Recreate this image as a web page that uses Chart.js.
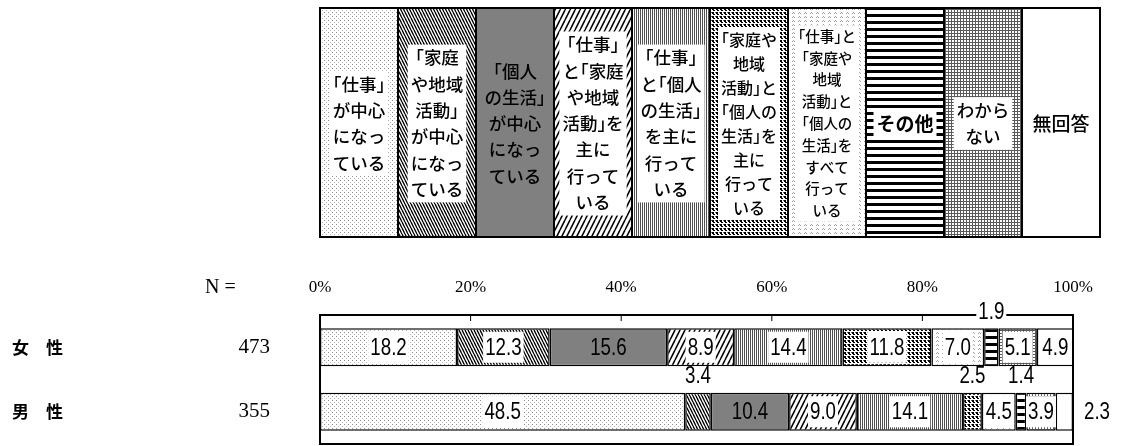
<!DOCTYPE html>
<html>
<head>
<meta charset="utf-8">
<script src="https://cdn.jsdelivr.net/npm/chart.js@4"></script>
<style>html,body{margin:0;padding:0;background:#fff;}</style>
</head>
<body>
<canvas id="chart" width="1139" height="446"></canvas>
<script>
// data
const groups = ['女　性', '男　性'];
const nCounts = [473, 355];
const categories = [
  ['「仕事」', 'が中心', 'になっ', 'ている'],
  ['「家庭', 'や地域', '活動」', 'が中心', 'になっ', 'ている'],
  ['「個人', 'の生活」', 'が中心', 'になっ', 'ている'],
  ['「仕事」', 'と「家庭', 'や地域', '活動」を', '主に', '行って', 'いる'],
  ['「仕事」', 'と「個人', 'の生活」', 'を主に', '行って', 'いる'],
  ['「家庭や', '地域', '活動」と', '「個人の', '生活」を', '主に', '行って', 'いる'],
  ['「仕事」と', '「家庭や', '地域', '活動」と', '「個人の', '生活」を', 'すべて', '行って', 'いる'],
  ['その他'],
  ['わから', 'ない'],
  ['無回答']
];
const female = [18.2, 12.3, 15.6, 8.9, 14.4, 11.8, 7.0, 1.9, 5.1, 4.9];
const male = [48.5, 3.4, 10.4, 9.0, 14.1, 2.5, 4.5, 1.4, 3.9, 2.3];
const tickValues = [0, 20, 40, 60, 80, 100];

const ctx = document.getElementById('chart').getContext('2d');
const JP = '"Noto Sans CJK JP", "Noto Sans", sans-serif';
const SERIF = '"Liberation Serif", "DejaVu Serif", serif';

function makePattern(w, h, draw) {
  const c = document.createElement('canvas');
  c.width = w; c.height = h;
  const g = c.getContext('2d');
  g.fillStyle = '#fff';
  g.fillRect(0, 0, w, h);
  draw(g);
  return ctx.createPattern(c, 'repeat');
}

function slashes(g, w, h, back, lw) {
  g.strokeStyle = '#000';
  g.lineWidth = lw;
  for (const dx of [-w, 0, w]) {
    g.beginPath();
    if (back) { g.moveTo(dx, 0); g.lineTo(dx + w, h); }
    else { g.moveTo(dx, h); g.lineTo(dx + w, 0); }
    g.stroke();
  }
}

const fills = [
  makePattern(4, 4, g => { g.fillStyle = '#8c8c8c'; g.fillRect(0, 0, 1, 1); g.fillStyle = '#b4b4b4'; g.fillRect(2, 2, 1, 1); }),
  makePattern(3, 6, g => slashes(g, 3, 6, true, 1.3)),
  '#808080',
  makePattern(5, 10, g => slashes(g, 5, 10, false, 1.5)),
  makePattern(2, 1, g => { g.fillStyle = '#505050'; g.fillRect(0, 0, 1, 1); }),
  makePattern(4, 4, g => { g.fillStyle = '#000'; g.fillRect(0, 0, 2, 2); g.fillRect(1, 2, 2, 1); g.fillStyle = '#666'; g.fillRect(3, 0, 1, 1); }),
  makePattern(6, 4, g => { g.fillStyle = '#a0a0a0'; g.fillRect(0, 1, 1, 1); g.fillRect(1, 0, 1, 1); g.fillRect(2, 1, 1, 1); }),
  makePattern(1, 7, g => { g.fillStyle = '#000'; g.fillRect(0, 0, 1, 3); }),
  makePattern(3, 3, g => { g.fillStyle = '#5a5a5a'; g.fillRect(0, 0, 3, 1); g.fillRect(0, 0, 1, 3); }),
  '#ffffff'
];

// proportional brackets, like the original office font
function jpWidth(c, text) {
  let w = 0;
  for (const ch of text) {
    const a = c.measureText(ch).width;
    w += (ch === '「' || ch === '」') ? a / 2 : a;
  }
  return w;
}
function jpText(c, text, cx, y) {
  let x = cx - jpWidth(c, text) / 2;
  c.textAlign = 'left';
  for (const ch of text) {
    const a = c.measureText(ch).width;
    if (ch === '「') { c.fillText(ch, x - a / 2, y); x += a / 2; }
    else if (ch === '」') { c.fillText(ch, x, y); x += a / 2; }
    else { c.fillText(ch, x, y); x += a; }
  }
}

function narrowText(c, text, x, y, sx) {
  c.save();
  c.translate(x, y);
  c.scale(sx, 1);
  c.fillText(text, 0, 0);
  c.restore();
}

const decor = {
  id: 'decor',
  afterDraw(chart) {
    const c = chart.ctx;
    const area = chart.chartArea;
    const xs = chart.scales.x;
    const ys = chart.scales.y;

    // legend cells on top
    const cellW = 78, cellTop = 8, cellH = 229;
    categories.forEach((lines, i) => {
      const x = area.left + i * cellW;
      c.fillStyle = fills[i];
      c.fillRect(x, cellTop, cellW, cellH);
      c.strokeStyle = '#000';
      c.lineWidth = 2;
      c.strokeRect(x, cellTop, cellW, cellH);
      let size = 17.5, lh = 26.3;
      if (lines.length >= 9) { size = 14.5; lh = 21.8; }
      else if (lines.length === 8) { size = 16; lh = 24; }
      else if (lines.length === 1) { size = 19; }
      c.font = (lines[0] === 'その他' ? 'bold ' : '500 ') + size + 'px ' + JP;
      let tw = 0;
      lines.forEach(t => { tw = Math.max(tw, jpWidth(c, t)); });
      const cy = cellTop + cellH / 2 + 1;
      const y0 = cy - (lines.length - 1) * lh / 2;
      if (fills[i] !== '#808080') {
        c.fillStyle = '#fff';
        c.fillRect(x + cellW / 2 - tw / 2 - 3, y0 - lh / 2, tw + 6, lines.length * lh);
      }
      c.fillStyle = '#000';
      c.textBaseline = 'middle';
      lines.forEach((t, k) => jpText(c, t, x + cellW / 2, y0 + k * lh));
    });

    // plot frame and ticks
    c.strokeStyle = '#000';
    c.lineWidth = 2;
    c.strokeRect(area.left, area.top, area.right - area.left, area.bottom - area.top);
    c.lineWidth = 1;
    c.font = '17px ' + SERIF;
    c.fillStyle = '#000';
    c.textAlign = 'center';
    c.textBaseline = 'middle';
    tickValues.forEach(v => {
      const px = xs.getPixelForValue(v);
      if (v > 0 && v < 100) {
        c.beginPath();
        c.moveTo(px, area.top);
        c.lineTo(px, area.top + 6);
        c.stroke();
      }
      c.fillText(v + '%', px, 288);
    });
    c.font = '20px ' + SERIF;
    c.textAlign = 'left';
    c.fillText('N =', 205, 288);

    // group labels and counts
    groups.forEach((g, i) => {
      const py = ys.getPixelForValue(i);
      c.font = 'bold 17px ' + JP;
      c.textAlign = 'left';
      c.fillText(g, 12, py);
      c.font = '21px ' + SERIF;
      c.textAlign = 'right';
      c.fillText(String(nCounts[i]), 270, py);
    });

    // value labels
    const sx = 0.78;
    c.font = '24px "Liberation Sans", Arial, sans-serif';
    c.textAlign = 'center';
    c.textBaseline = 'middle';
    const last = chart.data.datasets.length - 1;
    chart.data.datasets.forEach((ds, di) => {
      const meta = chart.getDatasetMeta(di);
      meta.data.forEach((el, gi) => {
        const v = ds.data[gi];
        const txt = v.toFixed(1);
        const w = c.measureText(txt).width * sx;
        let tx = (el.x + el.base) / 2;
        let ty = el.y;
        let bh = el.height - 7;
        if (v < 3.5) {
          if (di === last) {
            tx = area.right + 24;
            bh = 0;
          } else {
            ty = el.y - el.height / 2 - 17;
            bh = 18;
          }
        }
        if (bh > 0 && ds.backgroundColor !== '#808080') {
          c.fillStyle = '#fff';
          c.fillRect(tx - w / 2 - 2, ty - bh / 2, w + 4, bh);
        }
        c.fillStyle = '#000';
        narrowText(c, txt, tx, ty + 1, sx);
      });
    });
  }
};

new Chart(ctx, {
  type: 'bar',
  data: {
    labels: groups,
    datasets: categories.map((lines, i) => ({
      label: lines.join(''),
      data: [female[i], male[i]],
      backgroundColor: fills[i],
      borderColor: '#000',
      borderWidth: 1.5,
      borderSkipped: false,
      barPercentage: 0.59,
      categoryPercentage: 1
    }))
  },
  options: {
    indexAxis: 'y',
    responsive: false,
    animation: false,
    layout: { padding: { left: 320, right: 66, top: 315, bottom: 2 } },
    scales: {
      x: { stacked: true, min: 0, max: 100, display: false },
      y: { stacked: true, display: false }
    },
    plugins: {
      legend: { display: false },
      tooltip: { enabled: false }
    }
  },
  plugins: [decor]
});
</script>
</body>
</html>
